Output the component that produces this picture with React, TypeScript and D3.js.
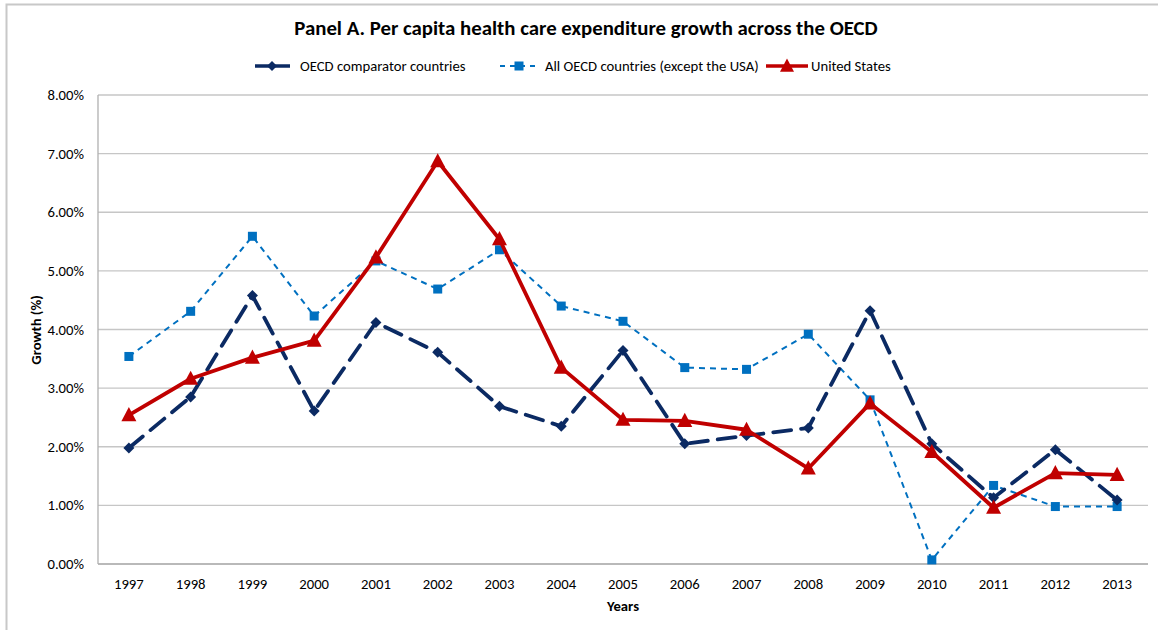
import React from "react";
import * as d3 from "d3";

const years = ["1997","1998","1999","2000","2001","2002","2003","2004","2005","2006","2007","2008","2009","2010","2011","2012","2013"];
const comparator = [1.98,2.85,4.58,2.61,4.12,3.61,2.69,2.35,3.64,2.05,2.19,2.32,4.32,2.05,1.13,1.95,1.09];
const allOecd = [3.54,4.31,5.59,4.23,5.17,4.69,5.36,4.40,4.14,3.35,3.32,3.92,2.80,0.07,1.34,0.98,0.98];
const unitedStates = [2.54,3.16,3.52,3.81,5.23,6.87,5.54,3.35,2.46,2.44,2.29,1.63,2.74,1.91,0.96,1.55,1.52];
const yTicks = [0,1,2,3,4,5,6,7,8];

const W = 1158, H = 630;
const left = 98, right = 1148, top = 95, bottom = 564;
const NAVY = "#0b2a63";
const BLUE = "#0070c0";
const RED = "#c00000";
const FONT = "Carlito, Calibri, Lato, 'Noto Sans', sans-serif";
const FS = 14.7;

function diamond(x: number, y: number, r: number) {
  return `M${x},${y - r}L${x + r},${y}L${x},${y + r}L${x - r},${y}Z`;
}
function triangle(x: number, y: number, s: number) {
  const h = s * 0.9;
  return `M${x},${y - h * 0.6}L${x + s / 2},${y + h * 0.45}L${x - s / 2},${y + h * 0.45}Z`;
}

export default function App() {
  const x = d3.scalePoint<string>().domain(years).range([left, right]).padding(0.5);
  const y = d3.scaleLinear().domain([0, 8]).range([bottom, top]);
  const line = d3.line<number>().x((_, i) => x(years[i]) as number).y((d) => y(d));
  const fmt = (v: number) => v.toFixed(2) + "%";

  return (
    <svg width={W} height={H} style={{ position: "fixed", left: 0, top: 0, background: "#fff" }} fontFamily={FONT}>
      <rect x={0} y={0} width={W} height={H} fill="#fff" />
      <path d={`M6.5,${H + 2}V4.5H${W + 2}`} fill="none" stroke="#c8c8c8" strokeWidth={2} />
      <text x={586} y={35} textAnchor="middle" fontSize={20.8} fontWeight="bold" fill="#000">
        Panel A. Per capita health care expenditure growth across the OECD
      </text>

      {/* legend */}
      <g>
        <line x1={255} x2={290} y1={66} y2={66} stroke={NAVY} strokeWidth={3.5} />
        <path d={diamond(272, 66, 5)} fill={NAVY} />
        <text x={300} y={71} fontSize={FS} fill="#000">OECD comparator countries</text>
        <line x1={500} x2={538} y1={66} y2={66} stroke={BLUE} strokeWidth={2} strokeDasharray="5,5" />
        <rect x={514.5} y={61.5} width={9} height={9} fill={BLUE} />
        <text x={545} y={71} fontSize={FS} fill="#000">All OECD countries (except the USA)</text>
        <line x1={766} x2={808} y1={66} y2={66} stroke={RED} strokeWidth={3.5} />
        <path d={triangle(787, 66, 14)} fill={RED} />
        <text x={811} y={71} fontSize={FS} fill="#000">United States</text>
      </g>

      {/* grid */}
      {yTicks.map((t) => (
        <g key={t}>
          <line x1={left} x2={right} y1={y(t)} y2={y(t)} stroke="#c6c6c6" strokeWidth={1.3} />
          <text x={84} y={y(t) + 5} textAnchor="end" fontSize={FS} fill="#000">{fmt(t)}</text>
        </g>
      ))}
      <line x1={left} x2={left} y1={top} y2={bottom} stroke="#b0b0b0" strokeWidth={1.3} />
      <line x1={left} x2={right} y1={bottom} y2={bottom} stroke="#b0b0b0" strokeWidth={1.3} />
      {years.map((yr) => (
        <text key={yr} x={x(yr)} y={588.5} textAnchor="middle" fontSize={FS} fill="#000">{yr}</text>
      ))}
      <text x={623} y={611} textAnchor="middle" fontSize={FS} fontWeight="bold" fill="#000">Years</text>
      <text transform="translate(41,330) rotate(-90)" textAnchor="middle" fontSize={FS} fontWeight="bold" fill="#000">Growth (%)</text>

      {/* all OECD */}
      <path d={line(allOecd) || ""} fill="none" stroke={BLUE} strokeWidth={2} strokeDasharray="6,5" />
      {allOecd.map((v, i) => (
        <rect key={i} x={(x(years[i]) as number) - 4.5} y={y(v) - 4.5} width={9} height={9} fill={BLUE} />
      ))}

      {/* comparator */}
      <path d={line(comparator) || ""} fill="none" stroke={NAVY} strokeWidth={3.8} strokeDasharray="18,10" strokeLinecap="round" />
      {comparator.map((v, i) => (
        <path key={i} d={diamond(x(years[i]) as number, y(v), 5.5)} fill={NAVY} />
      ))}

      {/* United States */}
      <path d={line(unitedStates) || ""} fill="none" stroke={RED} strokeWidth={3.8} strokeLinejoin="round" />
      {unitedStates.map((v, i) => (
        <path key={i} d={triangle(x(years[i]) as number, y(v), 15)} fill={RED} />
      ))}
    </svg>
  );
}
